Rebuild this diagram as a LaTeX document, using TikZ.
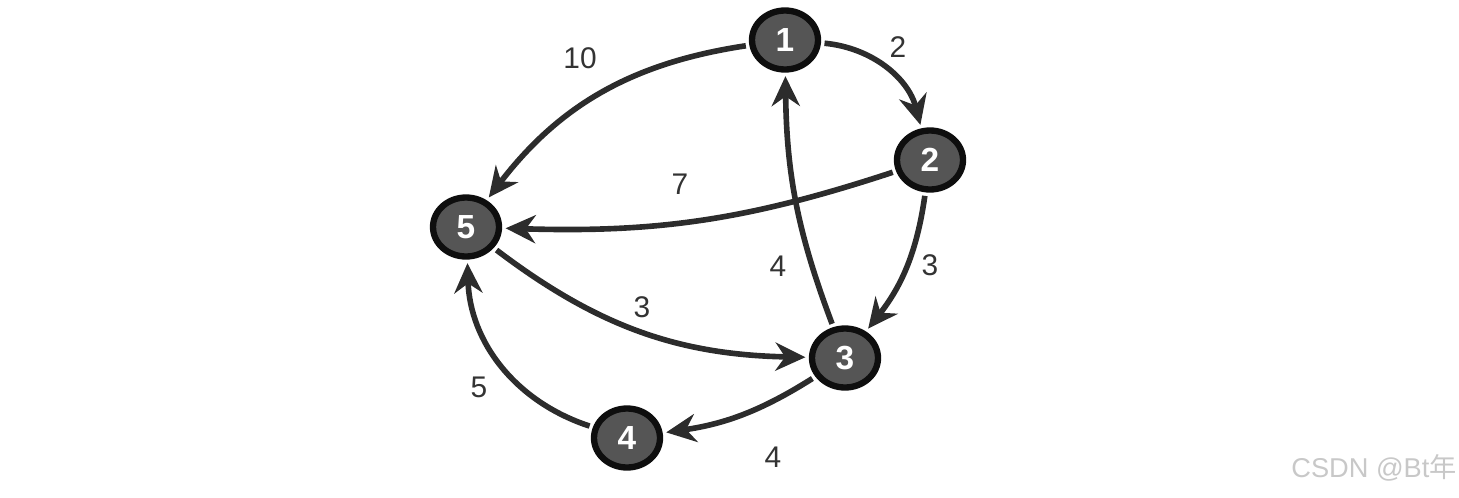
\documentclass[tikz,border=0pt]{standalone}
\usepackage{fontspec}
\setmainfont{Liberation Sans}
\newfontfamily\cjkfont{Noto Sans CJK SC}
\usepackage{tikz}
\usetikzlibrary{arrows.meta,shapes.geometric}
\definecolor{vfill}{RGB}{85,85,85}
\definecolor{vring}{RGB}{14,14,14}
\definecolor{edgec}{RGB}{44,44,44}
\definecolor{markc}{RGB}{200,200,200}
\begin{document}
\begin{tikzpicture}[x=0.02cm,y=-0.02cm,>={Stealth[length=17pt,width=16pt]},
    vtx/.style={ellipse,draw=vring,line width=3.6pt,fill=vfill,text=white,font=\fontsize{19}{21}\selectfont\bfseries,minimum width=1.32cm,minimum height=1.18cm,inner sep=0pt},
    edg/.style={->,draw=edgec,line width=3.2pt,shorten >=2pt,shorten <=2pt},
    wt/.style={font=\fontsize{17}{19}\selectfont,text=black!80}]
        \useasboundingbox (0,0) rectangle (1459,497);
        \node[vtx] (v1) at (785,40) {1};
        \node[vtx] (v2) at (930,160) {2};
        \node[vtx] (v3) at (845,358) {3};
        \node[vtx] (v4) at (627,438) {4};
        \node[vtx] (v5) at (466,227) {5};
        \draw[edg] (v1) to[bend right=22] (v5);
        \draw[edg] (v1) to[bend left=35] (v2);
        \draw[edg] (v2) to[bend left=10] (v5);
        \draw[edg] (v2) to[bend left=15] (v3);
        \draw[edg] (v3) to[bend left=10] (v1);
        \draw[edg] (v5) to[bend right=18] (v3);
        \draw[edg] (v3) to[bend left=12] (v4);
        \draw[edg] (v4) to[bend left=35] (v5);
        \node[wt] (w15) at (580,58) {10};
        \node[wt] (w12) at (898,47) {2};
        \node[wt] (w25) at (680,184) {7};
        \node[wt] (w23) at (930,265) {3};
        \node[wt] (w31) at (778,266) {4};
        \node[wt] (w53) at (642,307) {3};
        \node[wt] (w45) at (479,387) {5};
        \node[wt] (w34) at (773,457) {4};
        \node[font=\fontsize{15.5}{17}\selectfont,text=markc] (mark) at (1374,468) {CSDN @Bt{\cjkfont 年}};
      \end{tikzpicture}
\end{document}
